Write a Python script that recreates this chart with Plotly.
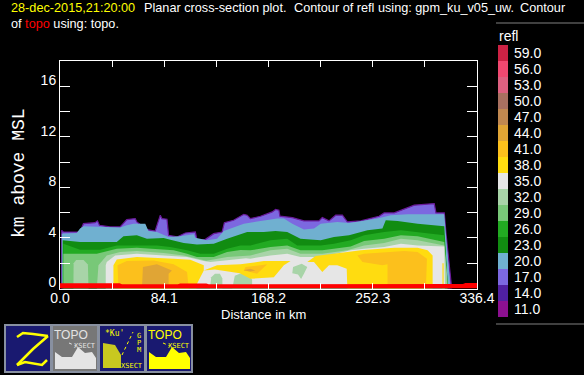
import plotly.graph_objects as go

# ---------- data (km along section, km above MSL) ----------
x_axis_ticks = [0.0, 42.05, 84.1, 126.15, 168.2, 210.25, 252.3, 294.35, 336.4]
x_axis_text = ["0.0", "", "84.1", "", "168.2", "", "252.3", "", "336.4"]
y_axis_ticks = [0, 2, 4, 6, 8, 10, 12, 14, 16]
y_axis_text = ["0", "", "4", "", "8", "", "12", "", "16"]

levels = ["11.0", "14.0", "17.0", "20.0", "23.0", "26.0", "29.0", "32.0", "35.0",
          "38.0", "41.0", "44.0", "47.0", "50.0", "53.0", "56.0", "59.0"]
level_colors = ["#8c1090", "#5020a0", "#7c68e0", "#70b0d0", "#118c11", "#22aa22", "#78c878",
                "#a8d4a8", "#e6e6e6", "#ffdc10", "#fcc01c", "#e0a535", "#c08850", "#a87060",
                "#dd6080", "#f04870", "#cc2244"]
C = dict(zip(levels, level_colors))

x17 = [1.2, 1.4, 2.7, 16.2, 18.9, 28.3, 30.2, 31.8, 40.4, 48.5, 53.9, 60.7, 62, 70.1, 76.8, 80.9, 82.2, 86.3, 87.6, 94.4,
       101.1, 109.2, 110.5, 117.3, 124, 130.8, 132.6, 140, 148.3, 151, 153.6, 161.7, 171.2, 173.9, 176.6, 177.4, 187.4,
       196.8, 208.9, 211.6, 217, 222.4, 227.8, 231.8, 242.6, 257.4, 261.5, 269.6, 285.8, 301.9, 303.3, 310, 311.4, 313.3,
       314.9, 315.4, 316]
y17 = [0, 4.6, 4.47, 4.47, 5.13, 5.21, 5.35, 5.0, 4.87, 4.87, 5.45, 5.53, 5.27, 4.66, 4.55, 5.8, 5.53, 5.48, 4.21, 4.08,
       4.39, 4.47, 3.81, 3.89, 4.34, 4.47, 5.21, 5.4, 5.87, 5.8, 5.53, 5.72, 6.06, 6.25, 6.19, 5.72, 5.61,
       5.35, 5.35, 5.61, 5.35, 5.8, 5.8, 5.27, 5.35, 5.72, 5.98, 5.98, 6.59, 6.72, 5.98, 5.98, 4.34, 2.49,
       0.64, 0.24, 0]

x20 = [1.4, 1.4, 13.5, 16.2, 18.9, 41.8, 48.5, 53.9, 59.3, 68.8, 71.4, 78.2, 87.6, 97, 107.9, 109.2, 118.6, 126.7, 132.1,
       148.3, 161.8, 175.2, 180.6, 187.4, 196.8, 204.9, 210.3, 223.7, 233.2, 256.1, 266.9, 280.4, 310, 311.4, 313.3, 314.9, 315]
y20 = [0, 4.34, 4.39, 4.74, 4.92, 4.82, 4.82, 5.0, 5.13, 5.13, 4.55, 4.47, 4.08, 4.13, 4.29, 4.02, 3.81, 3.94, 4.55,
       5.13, 5.35, 5.53, 5.53, 5.13, 4.66, 4.74, 5.13, 5.27, 5.19, 5.53, 5.8, 5.87, 5.87, 4.21, 2.22, 0.5, 0]

x23 = [2.2, 2.2, 16.2, 45.8, 51.2, 62, 70.1, 83.6, 89, 99.8, 110.5, 124, 134.8, 142.9, 151, 164.4, 173.9, 183.3, 194,
       210.3, 221, 233.2, 248, 260.1, 262.8, 272.3, 288.5, 310, 310.8, 312.7, 313]
y23 = [0, 3.81, 3.68, 3.68, 4.13, 4.21, 3.94, 4.0, 3.86, 3.6, 3.49, 3.55, 3.94, 4.21, 4.47, 4.47, 4.55, 4.47, 3.94,
       3.81, 4.08, 4.21, 4.6, 4.74, 5.4, 5.35, 5.13, 4.92, 3.55, 0.64, 0]

x26 = [2.7, 2.7, 16.2, 32.4, 45.8, 59.3, 78.2, 89, 102.5, 113.2, 124, 134.8, 145.6, 153.6, 169.8, 183.3, 191.4,
       210.3, 221, 234.5, 245.3, 261.5, 275, 310, 310.8, 312.7, 313]
y26 = [0, 3.55, 3.07, 3.07, 3.41, 3.41, 3.41, 3.28, 3.02, 2.75, 2.75, 3.15, 3.41, 3.41, 3.81, 3.94, 3.41,
       3.41, 3.55, 3.81, 4.21, 4.47, 4.6, 4.21, 3.02, 0.64, 0]

x29 = [2.7, 2.7, 29.7, 45.8, 62, 80.9, 91.7, 102.5, 110.5, 124, 134.8, 145.6, 153.6, 169.8, 183.3, 194,
       211.6, 234.5, 245.3, 261.5, 275, 288.5, 310, 310.8, 312.7, 313]
y29 = [0, 2.75, 2.75, 3.15, 3.23, 3.07, 3.02, 2.75, 2.49, 2.49, 2.89, 3.05, 3.02, 3.28, 3.41, 3.02,
       3.02, 3.33, 3.76, 3.94, 4.21, 4.13, 3.68, 2.75, 0.77, 0]

x32 = [29.7, 31, 37.7, 48.5, 62, 83.6, 99.8, 110.5, 118, 135, 153.6, 169.8, 183.3, 194,
       211.6, 231.8, 245.3, 261.5, 275, 288.5, 310, 310.8, 312, 312]
y32 = [0, 1.83, 2.62, 2.89, 2.96, 2.81, 2.62, 2.36, 2.2, 2.5, 2.62, 3.02, 3.15, 2.75,
       2.75, 3.02, 3.41, 3.6, 3.94, 3.81, 3.41, 2.49, 1.16, 0]

x32_a = [10.8, 11, 13, 19, 22.5, 23]
y32_a = [0, 2.0, 2.25, 2.25, 1.9, 0]

x35 = [36.9, 36.9, 37.7, 44.5, 62, 83.6, 102.5, 115.9, 121.3, 150, 153.6, 169.8, 183.3, 194,
       211.6, 234.5, 245.3, 261.5, 275, 288.5, 310, 310.6]
y35 = [0, 1.83, 2.09, 2.62, 2.75, 2.62, 2.49, 2.17, 2.09, 2.4, 2.36, 2.62, 2.75, 2.49,
       2.49, 3.02, 3.15, 3.28, 3.55, 3.41, 3.33, 0]

x32_b = [121, 122, 125, 129, 131, 131]
y32_b = [0, 0.9, 1.16, 1.16, 0.8, 0]
x32_c = [139, 141, 146, 152, 155, 155]
y32_c = [0, 1.0, 1.2, 1.1, 0.7, 0]
x32_d = [187.4, 188, 195, 199.5, 197, 194.5, 192]
y32_d = [1.2, 1.7, 1.95, 1.7, 1.2, 0.75, 1.1]

x38_a = [43.1, 43.1, 45.8, 62, 91.7, 105.1, 116, 116, 110.5, 110]
y38_a = [0, 1.83, 2.3, 2.49, 2.36, 2.28, 1.83, 1.43, 0.37, 0]
x38_b = [116, 126.7, 145.6, 161.8, 164.4, 186, 180.6, 172.5, 153.6, 145, 125]
y38_b = [1.43, 1.83, 1.91, 2.09, 2.17, 2.17, 1.83, 0.9, 0.77, 1.2, 1.5]
x38_c = [199.5, 206.2, 231.8, 242.6, 269.6, 288.5, 296.5, 300.6, 300.6, 231.8, 231.3, 223.7, 217, 211.6, 204.9]
y38_c = [2.09, 2.57, 2.89, 3.02, 3.23, 3.23, 3.02, 2.62, 0, 0, 1.56, 1.83, 1.83, 1.3, 2.09]
x38_d = [308.5, 308.5, 309.5, 309.5]
y38_d = [0, 2.0, 2.0, 0]

x41_a = [47.2, 46.4, 53.9, 75.5, 91.7, 102.5, 103.8]
y41_a = [0, 1.83, 2.17, 2.22, 1.91, 1.3, 0]
x41_b = [239.9, 245.3, 277.7, 288.5, 296, 295.2, 264.2, 264.2, 260.1, 244]
y41_b = [2.62, 2.75, 2.96, 2.89, 2.36, 0, 0, 1.91, 1.83, 2.09]
x41_c = [148.3, 149.6, 161.8, 167.1, 159, 153.6]
y41_c = [1.43, 1.7, 1.83, 1.91, 1.16, 1.3]

x44_a = [66.1, 66.9, 78.2, 90.3, 87.6, 87.6]
y44_a = [0, 1.7, 1.91, 1.43, 1.16, 0]
x44_b = [148, 153.6, 157.7, 153.6]
y44_b = [1.45, 1.56, 1.43, 1.35]

topo_x = [0, 48, 50, 95, 97, 118, 120, 168, 170, 250, 252, 325, 327, 336.4]
topo_y = [0.42, 0.42, 0.34, 0.34, 0.4, 0.4, 0.34, 0.34, 0.34, 0.34, 0.36, 0.36, 0.44, 0.44]

W, H = 584, 375
def px(v): return v / W
def py(v): return 1 - v / H

fig = go.Figure()

def add_band(x, y, level, edge=None):
    fig.add_trace(go.Scatter(x=x, y=y, mode="lines", fill="toself", fillcolor=C[level],
                             line=dict(color=edge or C[level], width=1.2 if edge else 0),
                             hoverinfo="skip", showlegend=False, xaxis="x", yaxis="y"))

add_band(x17, y17, "17.0", edge="#6a1a9a")
add_band(x20, y20, "20.0")
add_band(x23, y23, "23.0")
add_band(x26, y26, "26.0")
add_band(x29, y29, "29.0")
add_band(x32, y32, "32.0")
add_band(x32_a, y32_a, "32.0")
add_band(x35, y35, "35.0")
for a, b in [(x32_b, y32_b), (x32_c, y32_c), (x32_d, y32_d)]:
    add_band(a, b, "32.0")
for a, b in [(x38_a, y38_a), (x38_b, y38_b), (x38_c, y38_c), (x38_d, y38_d)]:
    add_band(a, b, "38.0")
for a, b in [(x41_a, y41_a), (x41_b, y41_b), (x41_c, y41_c)]:
    add_band(a, b, "41.0")
for a, b in [(x44_a, y44_a), (x44_b, y44_b)]:
    add_band(a, b, "44.0")

fig.add_trace(go.Scatter(x=topo_x, y=topo_y, mode="lines", fill="tozeroy", fillcolor="#ff0000",
                         line=dict(color="#ff0000", width=0), hoverinfo="skip", showlegend=False))

# colour legend
fig.add_trace(go.Bar(x=[0] * len(levels), y=[1] * len(levels), base=list(range(len(levels))),
                     width=1, marker=dict(color=level_colors, line=dict(width=0)),
                     xaxis="x2", yaxis="y2", hoverinfo="skip", showlegend=False))

SANS = "Liberation Sans"
axis_line = dict(showline=True, linecolor="white", linewidth=1, mirror="allticks", ticks="inside",
                 tickcolor="white", tickwidth=1, showgrid=False, zeroline=False,
                 tickfont=dict(family=SANS, size=14, color="white"))

fig.update_layout(
    width=W, height=H, autosize=False, margin=dict(l=0, r=0, t=0, b=0, autoexpand=False),
    paper_bgcolor="black", plot_bgcolor="black", showlegend=False, barmode="overlay",
    xaxis=dict(domain=[px(60), px(477)], range=[0, 336.4], tickmode="array", tickvals=x_axis_ticks,
               ticktext=x_axis_text, ticklen=6, ticklabelstandoff=-3, anchor="y", **axis_line),
    yaxis=dict(domain=[py(288.5), py(61)], range=[0, 18], tickmode="array", tickvals=y_axis_ticks,
               ticktext=y_axis_text, ticklen=10, ticklabelshift=-6, anchor="x", **axis_line),
    xaxis2=dict(domain=[px(498), px(508)], range=[-0.5, 0.5], visible=False, anchor="y2"),
    yaxis2=dict(domain=[py(317), py(45)], range=[0, len(levels)], tickmode="array",
                tickvals=[i + 0.5 for i in range(len(levels))], ticktext=levels, side="right",
                anchor="x2", showline=False, showgrid=False, zeroline=False, ticks="",
                ticklabelstandoff=5, tickfont=dict(family=SANS, size=14, color="white")),
)

def label(text, x, y, size=13, color="white", family=SANS, anchor="left", angle=0):
    fig.add_annotation(text=text, x=px(x), y=py(y), xref="paper", yref="paper", showarrow=False,
                       xanchor=anchor, yanchor="middle", textangle=angle,
                       font=dict(family=family, size=size, color=color), borderpad=0)

label("28-dec-2015,21:20:00", 10, 8.5, size=12.7, color="#ffff00")
label("Planar cross-section plot.", 143, 8.5, size=12.7)
label("Contour of refl using: gpm_ku_v05_uw.", 293, 8.5, size=12.7)
label("Contour", 519, 8.5, size=12.7)
label("of <span style='color:#ff0000'>topo</span> using: topo.", 10, 24, size=12.7)
label("Distance in km", 263, 314, anchor="center")
label("km above MSL", 19, 173, size=18, family="Liberation Mono", anchor="center", angle=-90)
label("refl", 498, 36, size=14)

def box(x0, fill):
    fig.add_shape(type="rect", xref="paper", yref="paper", x0=px(x0), x1=px(x0 + 46), y0=py(372), y1=py(325),
                  fillcolor=fill, line=dict(color="#8890a0", width=2))

def path(points, fill=None, line=None, width=0, dash=None):
    d = "M " + " L ".join(f"{px(a):.5f} {py(b):.5f}" for a, b in points) + (" Z" if fill else "")
    fig.add_shape(type="path", xref="paper", yref="paper", path=d, fillcolor=fill,
                  line=dict(color=line or "rgba(0,0,0,0)", width=width, dash=dash or "solid"))

NAVY = "#191970"
YEL = "#ffff00"
box(5, NAVY)
box(52, "#777777")
box(99, NAVY)
box(146, NAVY)

# Z icon
path([(17, 337), (23, 333), (33, 334), (48, 336)], line=YEL, width=2.5)
path([(48, 336), (33, 349), (17, 365)], line=YEL, width=2.5)
path([(17, 365), (25, 362), (42, 365), (47, 360)], line=YEL, width=2.5)

# TOPO icons
terrain = [(55, 369), (55, 352), (62, 357), (72, 357), (78, 347), (85, 353), (92, 352), (96, 358), (96, 369)]
path(terrain, fill="#e4e4e4")
path([(a + 94, b) for a, b in terrain], fill=YEL)
for left, col in [(52, "#e4e4e4"), (146, YEL)]:
    label("TOPO", left + 19, 334.5, size=12, color=col, anchor="center")
    label("XSECT", left + 33, 346, size=7, color=col, family="DejaVu Sans Mono", anchor="center")
    path([(left + 17, 343), (left + 24, 346)], line=col, width=1, dash="dot")

# Ku icon
path([(103, 368), (103, 343), (115, 345), (121, 355), (121, 368)], fill="#c8c820")
path([(122, 355), (133, 332)], line=YEL, width=1, dash="dot")
label("*Ku'", 104, 333, size=8, color=YEL, family="DejaVu Sans Mono")
label("XSECT", 132, 366, size=7, color=YEL, family="DejaVu Sans Mono", anchor="center")
for ch, yy in zip("GPM", [336, 343, 350]):
    label(ch, 139, yy, size=7, color=YEL, family="DejaVu Sans Mono", anchor="center")

# legend rules
for yy in (23, 324):
    fig.add_shape(type="line", xref="paper", yref="paper", x0=px(496), x1=1, y0=py(yy), y1=py(yy),
                  line=dict(color="#808080", width=1))

fig.write_html("out.html", config={"displayModeBar": False},
               post_script="document.body.style.margin='0';document.body.style.background='black';document.documentElement.style.overflow='hidden';")
